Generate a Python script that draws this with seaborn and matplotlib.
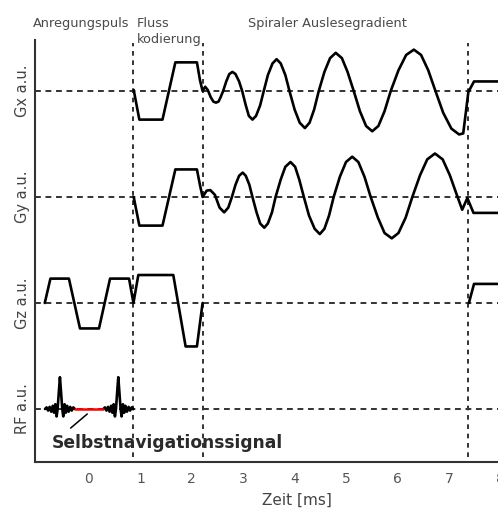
import matplotlib
matplotlib.use("Agg")
import numpy as np
import pandas as pd
import matplotlib.pyplot as plt
import seaborn as sns

# Gradientenverlaeufe (Zeit in ms, Amplitude a.u.)
gx_t = [0.87, 0.98, 1.43, 1.68, 2.10, 2.16,
        2.21, 2.26, 2.31, 2.37, 2.42, 2.47, 2.52, 2.56, 2.61,
        2.67, 2.73, 2.79, 2.85, 2.92, 2.98,
        3.05, 3.11, 3.18, 3.25, 3.33, 3.40,
        3.48, 3.57, 3.65, 3.73, 3.82, 3.90,
        4.00, 4.10, 4.20, 4.29, 4.38, 4.47,
        4.58, 4.69, 4.80, 4.92, 5.03, 5.15,
        5.27, 5.39, 5.51, 5.63, 5.75, 5.87,
        6.02, 6.17, 6.32, 6.46, 6.60, 6.74,
        6.89, 7.05, 7.20, 7.28, 7.38, 7.49, 8.30]
gx_a = [0.01, -0.27, -0.27, 0.27, 0.27, 0.10,
        0.0, 0.04, 0.01, -0.06, -0.10, -0.11, -0.10, -0.06, 0.0,
        0.09, 0.16, 0.18, 0.16, 0.09, 0.0,
        -0.135, -0.235, -0.27, -0.235, -0.135, 0.0,
        0.15, 0.26, 0.30, 0.26, 0.15, 0.0,
        -0.175, -0.30, -0.35, -0.30, -0.175, 0.0,
        0.18, 0.31, 0.36, 0.31, 0.18, 0.0,
        -0.19, -0.33, -0.38, -0.33, -0.19, 0.0,
        0.195, 0.34, 0.39, 0.34, 0.195, 0.0,
        -0.205, -0.355, -0.41, -0.40, -0.01, 0.09, 0.09]

gy_t = [0.87, 0.98, 1.43, 1.68, 2.10, 2.16,
        2.21, 2.29, 2.36, 2.45, 2.54, 2.63, 2.71, 2.78,
        2.85, 2.92, 2.99, 3.05, 3.12, 3.18,
        3.26, 3.33, 3.41, 3.48, 3.56, 3.63,
        3.73, 3.82, 3.92, 4.01, 4.09, 4.18,
        4.28, 4.39, 4.49, 4.58, 4.67, 4.76,
        4.88, 5.00, 5.12, 5.24, 5.36, 5.48,
        5.62, 5.75, 5.89, 6.02, 6.16, 6.29,
        6.44, 6.58, 6.73, 6.88, 7.02, 7.17,
        7.26, 7.36, 7.48, 8.30]
gy_a = [0.0, -0.27, -0.27, 0.26, 0.26, 0.11,
        0.0, 0.06, 0.065, 0.02, -0.10, -0.145, -0.10, 0.0,
        0.115, 0.20, 0.23, 0.20, 0.115, 0.0,
        -0.145, -0.25, -0.29, -0.25, -0.145, 0.0,
        0.165, 0.285, 0.33, 0.285, 0.165, 0.0,
        -0.175, -0.30, -0.35, -0.30, -0.175, 0.0,
        0.19, 0.33, 0.38, 0.33, 0.19, 0.0,
        -0.195, -0.34, -0.39, -0.34, -0.195, 0.0,
        0.205, 0.355, 0.41, 0.355, 0.205, 0.0,
        -0.12, -0.01, -0.15, -0.15]

gz_t = [-0.86, -0.75, -0.39, -0.175, 0.195, 0.41, 0.78, 0.865, 0.96, 1.64, 1.88, 2.10, 2.21,
        7.39, 7.49, 8.30]
gz_a = [0.0, 0.23, 0.23, -0.24, -0.24, 0.23, 0.23, 0.0, 0.264, 0.264, -0.41, -0.41, 0.0,
        0.0, 0.18, 0.18]
gz_seg = [0] * 13 + [1] * 3

# RF-Puls (sinc), Form relativ zur Pulsmitte
rf_shape_t = [-0.29, -0.26, -0.23, -0.20, -0.17, -0.14, -0.115, -0.09, -0.065, -0.045, -0.02, 0.0,
              0.02, 0.045, 0.065, 0.09, 0.115, 0.14, 0.17, 0.20, 0.23, 0.26, 0.29]
rf_shape_a = [0.0, 0.015, -0.015, 0.02, -0.025, 0.03, -0.035, 0.045, -0.07, 0.0, 0.17, 0.30,
              0.17, 0.0, -0.07, 0.045, -0.035, 0.03, -0.025, 0.02, -0.015, 0.015, 0.0]
rf_centers = [-0.565, 0.57]

nav_t = [-0.275, 0.28]           # Selbstnavigationssignal (rot)
pointer_t = [-0.357, -0.033]
pointer_a = [-0.18, -0.047]

channels = ["RF a.u.", "Gz a.u.", "Gy a.u.", "Gx a.u."]
section_bounds = [0.866, 2.218, 7.374]
xticks = [0, 1, 2, 3, 4, 5, 6, 7, 8]

# Kanaele übereinander stapeln: RF=0, Gz=1, Gy=2, Gx=3
rows = []
for t, a in zip(gx_t, gx_a):
    rows.append((t, a + 3, "gx"))
for t, a in zip(gy_t, gy_a):
    rows.append((t, a + 2, "gy"))
for t, a, s in zip(gz_t, gz_a, gz_seg):
    rows.append((t, a + 1, "gz%d" % s))
for i, c in enumerate(rf_centers):
    for t, a in zip(rf_shape_t, rf_shape_a):
        rows.append((c + t, a, "rf%d" % i))
df = pd.DataFrame(rows, columns=["t", "y", "unit"])

sns.set_theme(style="white")
plt.rcParams["font.family"] = ["DejaVu Sans"]

fig = plt.figure(figsize=(4.98, 5.12), dpi=100)
ax = fig.add_axes([35 / 498, 50 / 512, 475 / 498, 422 / 512])

dash_col = "#333333"
for k in range(4):
    ax.axhline(k, color=dash_col, lw=1.4, dashes=(3.0, 2.4), zorder=1)
for xb in section_bounds:
    ax.axvline(xb, ymin=0.012, ymax=0.993, color=dash_col, lw=1.4, dashes=(2.4, 2.4), zorder=1)

sns.lineplot(data=df, x="t", y="y", units="unit", estimator=None, sort=False,
             color="black", lw=1.9, legend=False, ax=ax, zorder=3)
sns.lineplot(x=nav_t, y=[0, 0], color="red", lw=1.8, ax=ax, zorder=4)
ax.plot(pointer_t, pointer_a, color="black", lw=1.1, zorder=3)

ax.text(-0.72, -0.32, "Selbstnavigationssignal", fontsize=12.3, fontweight="bold",
        color="#2a2a2a", va="center", ha="left", zorder=5)

ax.set_xlim(-1.05, 8.19)
ax.set_ylim(-0.5, 3.481)
ax.set_xticks(xticks)
ax.set_yticks(range(4))
ax.set_yticklabels(channels, rotation=90, va="center")
ax.tick_params(axis="y", length=0, pad=3.5, labelsize=10.5, labelcolor="#444444")
ax.tick_params(axis="x", direction="in", length=3.5, width=1.0, color="#444444",
               pad=7, labelsize=10, labelcolor="#555555")
ax.set_xlabel("Zeit [ms]", fontsize=11, color="#444444")
ax.xaxis.set_label_coords(0.552, -0.072)
ax.set_ylabel("")

sns.despine(ax=ax)
for side in ["left", "bottom"]:
    ax.spines[side].set_color("#333333")
    ax.spines[side].set_linewidth(1.5)

head_col = "#4a4a4a"
fig.text(33 / 498, 1 - 27 / 512, "Anregungspuls", fontsize=9.3, color=head_col, va="baseline")
fig.text(137 / 498, 1 - 27 / 512, "Fluss", fontsize=9.3, color=head_col, va="baseline")
fig.text(137 / 498, 1 - 43 / 512, "kodierung", fontsize=9.3, color=head_col, va="baseline")
fig.text(248 / 498, 1 - 27 / 512, "Spiraler Auslesegradient", fontsize=9.3, color=head_col,
         va="baseline")

fig.savefig("out.png", dpi=100)
